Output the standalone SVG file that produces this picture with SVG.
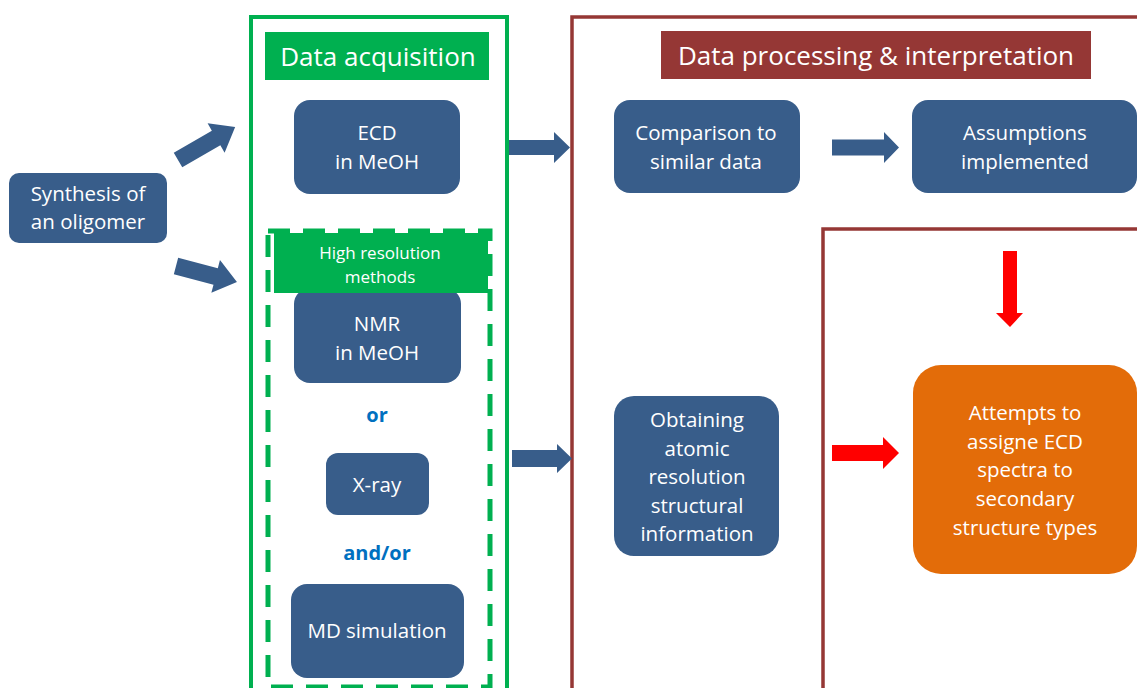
<svg xmlns="http://www.w3.org/2000/svg" width="1137" height="688" viewBox="0 0 1137 688">
<style>
.box{fill:#385D8A;}
.t{font-family:"Open Sans","Liberation Sans",sans-serif;fill:#ffffff;font-size:20.5px;text-anchor:middle;dominant-baseline:central;}
.h{font-size:26px;}
.s{font-size:17px;}
.conj{font-family:"Open Sans","Liberation Sans",sans-serif;fill:#0070C0;font-weight:bold;font-size:20px;text-anchor:middle;dominant-baseline:central;}
.ba{fill:#385D8A;}
.ra{fill:#FF0000;}
</style>
<rect width="1137" height="688" fill="#ffffff"/>
<g id="acq-frame">
<rect x="251" y="17" width="256" height="690" fill="none" stroke="#00B050" stroke-width="4"/>
</g>
<g id="proc-frame">
<rect x="572" y="17" width="600" height="690" fill="none" stroke="#953735" stroke-width="3.5"/>
<rect x="823" y="229" width="350" height="480" fill="none" stroke="#953735" stroke-width="3.5"/>
</g>
<g id="hires-frame">
<rect x="268" y="231" width="222" height="456" fill="none" stroke="#00B050" stroke-width="5" stroke-dasharray="22,13"/>
</g>
<g id="acq-label">
<rect x="265" y="32" width="224" height="48" fill="#00B050"/>
<text class="t h" x="378" y="56">Data acquisition</text>
</g>
<g id="proc-label">
<rect x="661" y="31" width="430" height="48" fill="#953735"/>
<text class="t h" x="876" y="55">Data processing &amp; interpretation</text>
</g>
<g id="synthesis">
<rect class="box" x="9" y="173" width="158" height="70" rx="10"/>
<text class="t" x="88" y="193">Synthesis of</text>
<text class="t" x="88" y="221">an oligomer</text>
</g>
<g id="ecd">
<rect class="box" x="294" y="100" width="166" height="94" rx="16"/>
<text class="t" x="377" y="132">ECD</text>
<text class="t" x="377" y="161">in MeOH</text>
</g>
<g id="nmr">
<rect class="box" x="294" y="288" width="167" height="95" rx="16"/>
<text class="t" x="377" y="323">NMR</text>
<text class="t" x="377" y="352">in MeOH</text>
</g>
<g id="hires-label">
<rect x="274" y="233" width="214" height="60" fill="#00B050"/>
<text class="t s" x="380" y="252">High resolution</text>
<text class="t s" x="380" y="276">methods</text>
</g>
<g id="or-label"><text class="conj" x="377" y="414">or</text></g>
<g id="xray">
<rect class="box" x="326" y="453" width="103" height="62" rx="12"/>
<text class="t" x="377" y="484">X-ray</text>
</g>
<g id="andor-label"><text class="conj" x="377" y="552">and/or</text></g>
<g id="md">
<rect class="box" x="291" y="584" width="173" height="94" rx="16"/>
<text class="t" x="377" y="630">MD simulation</text>
</g>
<g id="comparison">
<rect class="box" x="614" y="100" width="186" height="93" rx="16"/>
<text class="t" x="706" y="132">Comparison to</text>
<text class="t" x="706" y="161">similar data</text>
</g>
<g id="assumptions">
<rect class="box" x="912" y="100" width="225" height="93" rx="16"/>
<text class="t" x="1025" y="132">Assumptions</text>
<text class="t" x="1025" y="161">implemented</text>
</g>
<g id="obtaining">
<rect class="box" x="614" y="396" width="165" height="160" rx="20"/>
<text class="t" x="697" y="419">Obtaining</text>
<text class="t" x="697" y="448">atomic</text>
<text class="t" x="697" y="476">resolution</text>
<text class="t" x="697" y="505">structural</text>
<text class="t" x="697" y="533">information</text>
</g>
<g id="attempts">
<rect x="913" y="365" width="224" height="209" rx="28" fill="#E36C09"/>
<text class="t" x="1025" y="412">Attempts to</text>
<text class="t" x="1025" y="441">assigne ECD</text>
<text class="t" x="1025" y="469">spectra to</text>
<text class="t" x="1025" y="498">secondary</text>
<text class="t" x="1025" y="527">structure types</text>
</g>
<g id="connectors">
<path class="ba" d="M0,-8.5 L44,-8.5 L44,-17 L66,0 L44,17 L44,8.5 L0,8.5 Z" transform="translate(178,160) rotate(-30)"/>
<path class="ba" d="M0,-8.5 L41,-8.5 L41,-17 L63,0 L41,17 L41,8.5 L0,8.5 Z" transform="translate(176,266) rotate(14.7)"/>
<polygon class="ba" points="509,140 554,140 554,132 570,147.5 554,163 554,155 509,155"/>
<polygon class="ba" points="512,450 557,450 557,444 572,458.5 557,473 557,467 512,467"/>
<polygon class="ba" points="832,139.5 884,139.5 884,132 899,147.5 884,163 884,155.5 832,155.5"/>
<polygon class="ra" points="1003,251 1017,251 1017,313 1023,313 1010,327 996,313 1003,313"/>
<polygon class="ra" points="832,445 883,445 883,437 899,453 883,469 883,461 832,461"/>
</g>
</svg>
